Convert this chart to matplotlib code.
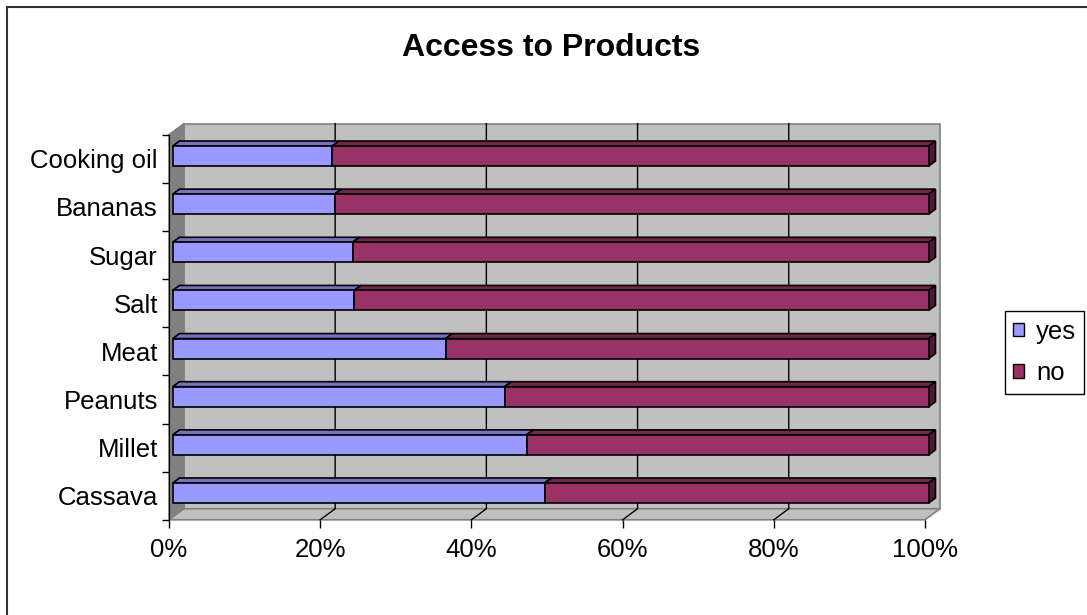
import matplotlib.pyplot as plt
from matplotlib.patches import Polygon, Patch
from matplotlib.lines import Line2D

# share of people with access to each product (percent)
categories = ['Cassava', 'Millet', 'Peanuts', 'Meat', 'Salt', 'Sugar', 'Bananas', 'Cooking oil']
yes = [49.2, 46.8, 43.9, 36.1, 24.0, 23.8, 21.4, 21.1]
no = [100 - v for v in yes]
xticks = [0, 20, 40, 60, 80, 100]
xtick_labels = ['0%', '20%', '40%', '60%', '80%', '100%']

plt.rcParams['font.family'] = ['Liberation Sans', 'DejaVu Sans']

YES_FRONT, YES_TOP = '#9999ff', '#7373bf'
NO_FRONT, NO_TOP, NO_SIDE = '#993366', '#73264d', '#4d1a33'
WALL, SIDE_WALL, EDGE = '#c0c0c0', '#808080', '#808080'

fig = plt.figure(figsize=(10.87, 6.15), dpi=100)
ax = fig.add_axes([0.15547, 0.1548, 0.69549, 0.6262])
n = len(categories)
ax.set_xlim(0, 100)
ax.set_ylim(-0.5, n - 0.5)

# oblique depth of the 3d box, in data units
DX, DY = 1.98, 0.23
z0, z1 = 0.25, 0.7   # front / back depth of the bars
h = 0.415            # bar thickness
ybot, ytop = -0.5, n - 0.5


def pt(x, y, z):
    return (x + z * DX, y + z * DY)


def face(pts, fc, ec='black', lw=1.2, zorder=3):
    ax.add_patch(Polygon([pt(*p) for p in pts], closed=True, facecolor=fc,
                         edgecolor=ec, linewidth=lw, zorder=zorder, clip_on=False))


# walls and floor
face([(0, ybot, 1), (100, ybot, 1), (100, ytop, 1), (0, ytop, 1)], WALL, EDGE, 1.2, 0)
face([(0, ybot, 0), (0, ybot, 1), (0, ytop, 1), (0, ytop, 0)], SIDE_WALL, EDGE, 1.2, 0)
face([(0, ybot, 0), (100, ybot, 0), (100, ybot, 1), (0, ybot, 1)], WALL, EDGE, 1.2, 0)

# gridlines on floor and back wall
for t in xticks[1:-1]:
    xs, ys = zip(pt(t, ybot, 0), pt(t, ybot, 1), pt(t, ytop, 1))
    ax.plot(xs, ys, color='black', lw=1, zorder=1, clip_on=False)

# stacked 3d bars
for i, (v, w) in enumerate(zip(yes, no)):
    lo, hi = i - h / 2, i + h / 2
    end = v + w
    face([(0, hi, z0), (v, hi, z0), (v, hi, z1), (0, hi, z1)], YES_TOP)
    face([(v, hi, z0), (end, hi, z0), (end, hi, z1), (v, hi, z1)], NO_TOP)
    face([(end, lo, z0), (end, lo, z1), (end, hi, z1), (end, hi, z0)], NO_SIDE)
    face([(0, lo, z0), (v, lo, z0), (v, hi, z0), (0, hi, z0)], YES_FRONT)
    face([(v, lo, z0), (end, lo, z0), (end, hi, z0), (v, hi, z0)], NO_FRONT)

for s in ['top', 'right', 'bottom']:
    ax.spines[s].set_visible(False)
ax.spines['left'].set_color('black')
ax.spines['left'].set_zorder(2)
ax.patch.set_visible(False)

ax.set_xticks(xticks)
ax.set_xticklabels(xtick_labels, fontsize=18.5)
ax.tick_params(axis='x', length=6, width=1, color='black', pad=7)
ax.set_yticks(range(n))
ax.set_yticklabels(categories, fontsize=18.5)
ax.set_yticks([k - 0.5 for k in range(n + 1)], minor=True)
ax.tick_params(axis='y', which='major', length=0, pad=8)
ax.tick_params(axis='y', which='minor', length=5, width=1, color='black')

fig.text(551.5 / 1087, 1 - 48 / 615, 'Access to Products', ha='center', va='center',
         fontsize=23, fontweight='bold')

handles = [Patch(facecolor=YES_FRONT, edgecolor='black', label='yes'),
           Patch(facecolor=NO_FRONT, edgecolor='black', label='no')]
leg = fig.legend(handles=handles, loc='center left', bbox_to_anchor=(1005 / 1087, 0.4268),
                 fontsize=18.5, frameon=True, fancybox=False, edgecolor='black', framealpha=1,
                 handlelength=0.42, handleheight=0.42, handletextpad=0.45, borderpad=0.33,
                 labelspacing=0.68, borderaxespad=0)
leg.get_frame().set_linewidth(1)

# chart area border
bx, by = 7 / 1087, 1 - 6.5 / 615
fig.add_artist(Line2D([bx, bx], [0, by], transform=fig.transFigure, color='#333333', lw=1.5))
fig.add_artist(Line2D([bx, 1], [by, by], transform=fig.transFigure, color='#333333', lw=1.5))

fig.savefig('out.png', dpi=100)
